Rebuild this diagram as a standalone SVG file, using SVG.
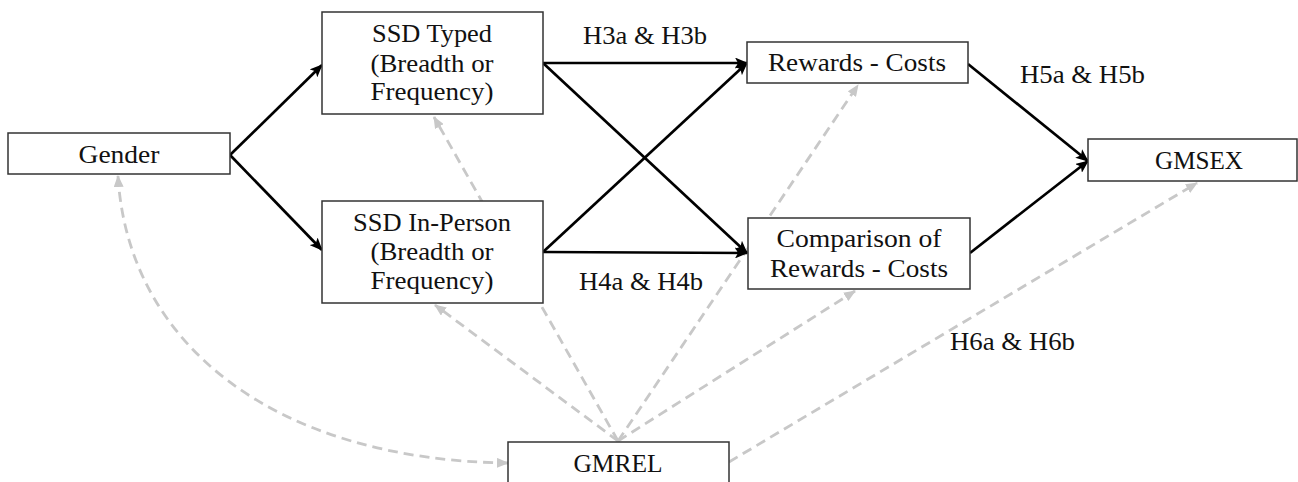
<svg xmlns="http://www.w3.org/2000/svg" width="1298" height="482" viewBox="0 0 1298 482">
  <style>
    .box { fill: #ffffff; stroke: #333333; stroke-width: 1.5; }
    .lbl { font-family: "Liberation Serif", "DejaVu Serif", serif; font-size: 25px; fill: #111111; }
    .mid { text-anchor: middle; }
    .solid { fill: none; stroke: #000000; stroke-width: 2.7; }
    .dash { fill: none; stroke: #c8c8c8; stroke-width: 2.8; stroke-dasharray: 10 6; }
  </style>
  <defs>
    <marker id="arrowBlack" markerUnits="userSpaceOnUse" markerWidth="13" markerHeight="11" refX="12" refY="5.5" orient="auto">
      <path d="M0,0 L13,5.5 L0,11 L3,5.5 z" fill="#000000"/>
    </marker>
    <marker id="arrowGray" markerUnits="userSpaceOnUse" markerWidth="12" markerHeight="10" refX="11" refY="5" orient="auto-start-reverse">
      <path d="M0,0 L12,5 L0,10 z" fill="#c8c8c8"/>
    </marker>
  </defs>

  <!-- connectors -->
  <g id="connectors">
    <!-- GMREL paths (dashed grey) -->
    <path class="dash" d="M618,441 L434,117" marker-end="url(#arrowGray)"/>
    <path class="dash" d="M618,441 L435,305" marker-end="url(#arrowGray)"/>
    <path class="dash" d="M618,441 L858,85" marker-end="url(#arrowGray)"/>
    <path class="dash" d="M618,441 L855,291" marker-end="url(#arrowGray)"/>
    <path class="dash" d="M729,462 L1197,183" marker-end="url(#arrowGray)"/>
    <path class="dash" d="M118,176 C128,345 275,460 508,463" marker-start="url(#arrowGray)" marker-end="url(#arrowGray)"/>

    <!-- hypothesised paths (solid black) -->
    <path class="solid" d="M230,155 L322,65" marker-end="url(#arrowBlack)"/>
    <path class="solid" d="M230,155 L322,250" marker-end="url(#arrowBlack)"/>
    <path class="solid" d="M543,63 L747,63" marker-end="url(#arrowBlack)"/>
    <path class="solid" d="M543,63 L747,253" marker-end="url(#arrowBlack)"/>
    <path class="solid" d="M543,252 L747,63" marker-end="url(#arrowBlack)"/>
    <path class="solid" d="M543,252 L747,253" marker-end="url(#arrowBlack)"/>
    <path class="solid" d="M968,64 L1088,161" marker-end="url(#arrowBlack)"/>
    <path class="solid" d="M970,253 L1088,161" marker-end="url(#arrowBlack)"/>
  </g>

  <!-- path labels -->
  <g id="labels" class="lbl">
    <text x="583" y="44" textLength="124" lengthAdjust="spacingAndGlyphs">H3a &amp; H3b</text>
    <text x="579" y="290" textLength="124" lengthAdjust="spacingAndGlyphs">H4a &amp; H4b</text>
    <text x="1020" y="83" textLength="125" lengthAdjust="spacingAndGlyphs">H5a &amp; H5b</text>
    <text x="950" y="350" textLength="125" lengthAdjust="spacingAndGlyphs">H6a &amp; H6b</text>
  </g>

  <!-- nodes -->
  <g id="gender">
    <rect class="box" x="8" y="133" width="222" height="41"/>
    <text class="lbl mid" x="119" y="163" textLength="81" lengthAdjust="spacingAndGlyphs">Gender</text>
  </g>

  <g id="ssd-typed">
    <rect class="box" x="322" y="12" width="221" height="102"/>
    <text class="lbl mid" x="432" y="42" textLength="120" lengthAdjust="spacingAndGlyphs">SSD Typed</text>
    <text class="lbl mid" x="432" y="72" textLength="123" lengthAdjust="spacingAndGlyphs">(Breadth or</text>
    <text class="lbl mid" x="432" y="100" textLength="123" lengthAdjust="spacingAndGlyphs">Frequency)</text>
  </g>

  <g id="ssd-in-person">
    <rect class="box" x="322" y="201" width="221" height="102"/>
    <text class="lbl mid" x="432" y="231" textLength="158" lengthAdjust="spacingAndGlyphs">SSD In-Person</text>
    <text class="lbl mid" x="432" y="260" textLength="123" lengthAdjust="spacingAndGlyphs">(Breadth or</text>
    <text class="lbl mid" x="432" y="289" textLength="123" lengthAdjust="spacingAndGlyphs">Frequency)</text>
  </g>

  <g id="rewards-costs">
    <rect class="box" x="747" y="42" width="221" height="41"/>
    <text class="lbl mid" x="857" y="71" textLength="178" lengthAdjust="spacingAndGlyphs">Rewards - Costs</text>
  </g>

  <g id="comparison">
    <rect class="box" x="748" y="218" width="222" height="71"/>
    <text class="lbl mid" x="859" y="247" textLength="165" lengthAdjust="spacingAndGlyphs">Comparison of</text>
    <text class="lbl mid" x="859" y="277" textLength="178" lengthAdjust="spacingAndGlyphs">Rewards - Costs</text>
  </g>

  <g id="gmsex">
    <rect class="box" x="1088" y="139" width="209" height="42"/>
    <text class="lbl mid" x="1199" y="169" textLength="88" lengthAdjust="spacingAndGlyphs">GMSEX</text>
  </g>

  <g id="gmrel">
    <rect class="box" x="508" y="442" width="221" height="50"/>
    <text class="lbl mid" x="618" y="472" textLength="89" lengthAdjust="spacingAndGlyphs">GMREL</text>
  </g>
</svg>
